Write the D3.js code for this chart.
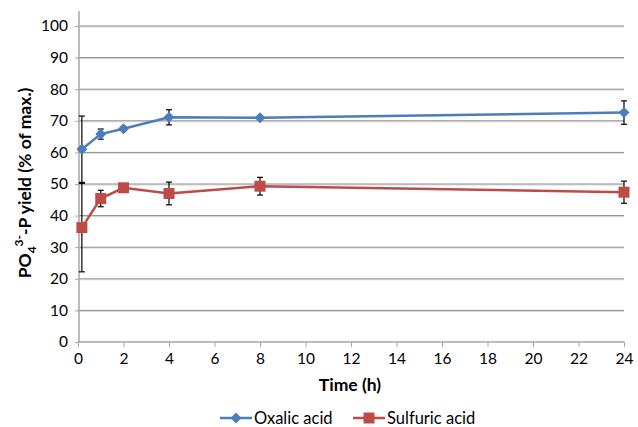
<!DOCTYPE html>
<html>
<head>
<meta charset="utf-8">
<script src="https://cdn.jsdelivr.net/npm/d3@7"></script>
<style>
	body { margin: 0; background: #fff; }
	text { font-family: Lato, "Open Sans", sans-serif; fill: #000; }
</style>
</head>
<body>
<svg id="vis" width="638" height="427"></svg>
<script>
// time points (h)
const times = [0.17, 1, 2, 4, 8, 24];
// PO4-P yield, % of max
const oxalic = [61.0, 65.8, 67.5, 71.1, 71.0, 72.6];
const oxalicErr = [10.5, 1.6, 0.6, 2.4, 0.4, 3.7];
const sulfuric = [36.2, 45.4, 48.8, 47.0, 49.3, 47.4];
const sulfuricErr = [14.0, 2.6, 0.6, 3.6, 2.8, 3.5];

const xTicks = d3.range(0, 25, 2);
const yTicks = d3.range(0, 101, 10);

const series = [
	{ name: "Oxalic acid", values: oxalic, err: oxalicErr, color: "#4a7ebb", marker: "diamond" },
	{ name: "Sulfuric acid", values: sulfuric, err: sulfuricErr, color: "#be4b48", marker: "square" }
];

const svg = d3.select("svg#vis");

const x = d3.scaleLinear().domain([0, 24]).range([78, 624]);
const y = d3.scaleLinear().domain([0, 100]).range([342, 26]);

// gridlines (with the light shadow line under each)
svg.append("g").selectAll("line.grid")
	.data(yTicks.filter(d => d > 0))
	.enter().append("line")
	.attr("x1", 79).attr("x2", 624)
	.attr("y1", d => y(d) + 1).attr("y2", d => y(d) + 1)
	.attr("stroke", "#d9d9d9").attr("stroke-width", 1);
svg.append("g").selectAll("line.grid")
	.data(yTicks.filter(d => d > 0))
	.enter().append("line")
	.attr("x1", 79).attr("x2", 624)
	.attr("y1", d => y(d)).attr("y2", d => y(d))
	.attr("stroke", "#8c8c8c").attr("stroke-width", 1);

// y axis
const yAxis = svg.append("g")
	.attr("transform", "translate(79,0)")
	.call(d3.axisLeft(y).tickValues(yTicks).tickSize(5).tickPadding(6));
yAxis.select(".domain").remove();
yAxis.append("line").attr("x1", 0).attr("x2", 0).attr("y1", 11).attr("y2", 342)
	.attr("stroke", "#a6a6a6").attr("stroke-width", 1.5);
yAxis.selectAll(".tick line").attr("stroke", "#a6a6a6").attr("x1", -4).attr("x2", 0);
yAxis.selectAll(".tick text").style("font-size", "15.5px").attr("fill", "#000");

// x axis
const xAxis = svg.append("g")
	.attr("transform", "translate(0,342)")
	.call(d3.axisBottom(x).tickValues(xTicks).tickSize(5).tickPadding(6));
xAxis.select(".domain").attr("stroke", "#a6a6a6").attr("stroke-width", 1.5)
	.attr("d", "M78,0H624");
xAxis.selectAll(".tick line").attr("stroke", "#a6a6a6");
xAxis.selectAll(".tick text").style("font-size", "15.5px").attr("fill", "#000");

// axis titles
svg.append("text")
	.attr("x", 350).attr("y", 391)
	.attr("text-anchor", "middle")
	.style("font-size", "17.5px").style("font-weight", "bold")
	.text("Time (h)");

const yTitle = svg.append("text")
	.attr("transform", "translate(31,183) rotate(-90)")
	.attr("text-anchor", "middle")
	.style("font-size", "17.5px").style("font-weight", "bold");
yTitle.append("tspan").text("PO");
yTitle.append("tspan").attr("dy", 5).style("font-size", "12px").text("4");
yTitle.append("tspan").attr("dy", -13).style("font-size", "12px").text("3-");
yTitle.append("tspan").attr("dy", 8).text("-P yield (% of max.)");

const line = d3.line().x(d => x(d[0])).y(d => y(d[1]));

function drawMarker(g, type, color) {
	if (type === "diamond") {
		g.append("path").attr("d", "M0,-5.5L5.5,0L0,5.5L-5.5,0Z").attr("fill", color);
	} else {
		g.append("rect").attr("x", -5.5).attr("y", -5.5).attr("width", 11).attr("height", 11).attr("fill", color);
	}
}

series.forEach(function(s) {
	const pts = times.map((t, i) => [t, s.values[i]]);
	svg.append("path")
		.datum(pts)
		.attr("fill", "none")
		.attr("stroke", s.color)
		.attr("stroke-width", 2.5)
		.attr("d", line);

	// error bars
	const eb = svg.append("g").selectAll("g")
		.data(times.map((t, i) => ({ t: t, v: s.values[i], e: s.err[i] })))
		.enter().append("g");
	eb.append("line")
		.attr("x1", d => x(d.t)).attr("x2", d => x(d.t))
		.attr("y1", d => y(d.v - d.e)).attr("y2", d => y(d.v + d.e))
		.attr("stroke", "#000").attr("stroke-width", 1.2);
	eb.append("line")
		.attr("x1", d => x(d.t) - 3).attr("x2", d => x(d.t) + 3)
		.attr("y1", d => y(d.v - d.e)).attr("y2", d => y(d.v - d.e))
		.attr("stroke", "#000").attr("stroke-width", 1.2);
	eb.append("line")
		.attr("x1", d => x(d.t) - 3).attr("x2", d => x(d.t) + 3)
		.attr("y1", d => y(d.v + d.e)).attr("y2", d => y(d.v + d.e))
		.attr("stroke", "#000").attr("stroke-width", 1.2);
});

series.forEach(function(s) {
	svg.append("g").selectAll("g")
		.data(times.map((t, i) => [t, s.values[i]]))
		.enter().append("g")
		.attr("transform", d => "translate(" + x(d[0]) + "," + y(d[1]) + ")")
		.each(function() { drawMarker(d3.select(this), s.marker, s.color); });
});

// legend
const legendX = [220, 353];
series.forEach(function(s, i) {
	const lg = svg.append("g").attr("transform", "translate(" + legendX[i] + ",418)");
	lg.append("line").attr("x1", 0).attr("x2", 32).attr("stroke", s.color).attr("stroke-width", 2.5);
	drawMarker(lg.append("g").attr("transform", "translate(16,0)"), s.marker, s.color);
	lg.append("text").attr("x", 34).attr("y", 6).style("font-size", "16.5px").text(s.name);
});
</script>
</body>
</html>
